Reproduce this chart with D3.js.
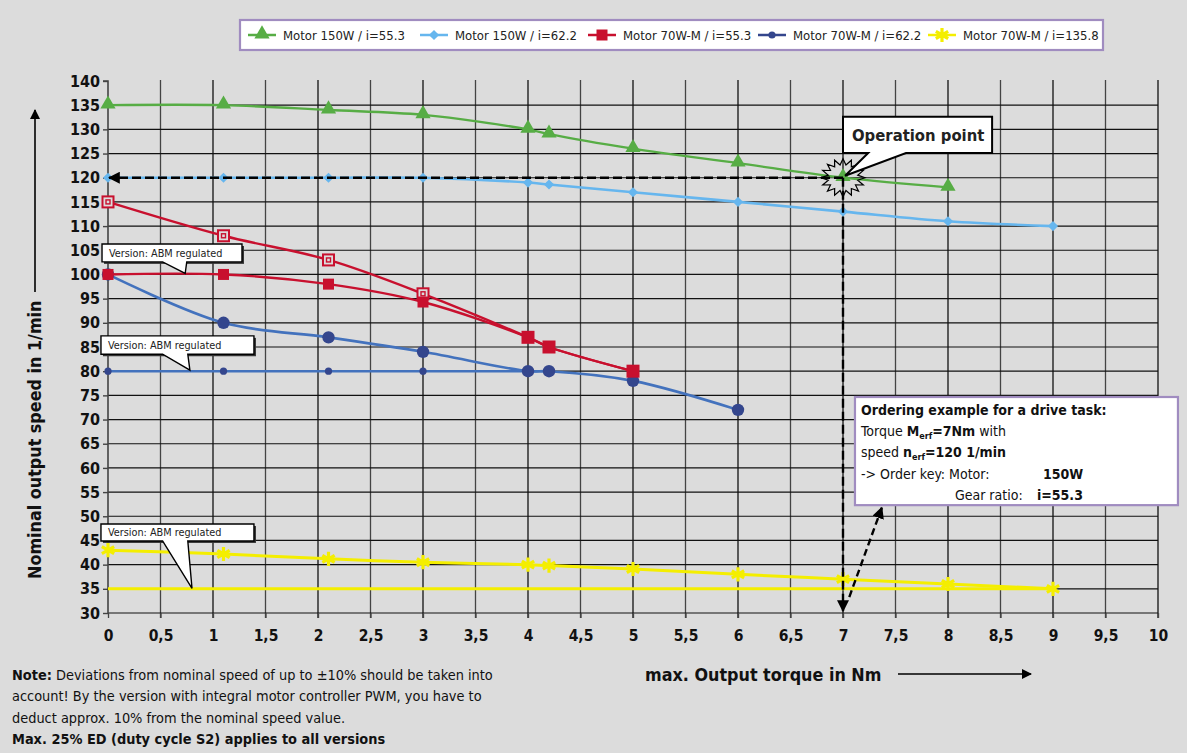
<!DOCTYPE html>
<html><head><meta charset="utf-8">
<script src="https://cdn.jsdelivr.net/npm/d3@7"></script>
<style>
html,body{margin:0;padding:0;background:#dcdcdc;}
svg{display:block;}
</style></head>
<body>
<svg id="chart" width="1187" height="753"></svg>
<script>
// ---------------- DATA ----------------
const xTickValues = [0,0.5,1,1.5,2,2.5,3,3.5,4,4.5,5,5.5,6,6.5,7,7.5,8,8.5,9,9.5,10];
const xTickLabels = ["0","0,5","1","1,5","2","2,5","3","3,5","4","4,5","5","5,5","6","6,5","7","7,5","8","8,5","9","9,5","10"];
const yTickValues = [30,35,40,45,50,55,60,65,70,75,80,85,90,95,100,105,110,115,120,125,130,135,140];

const legendLabels = ["Motor 150W / i=55.3","Motor 150W / i=62.2","Motor 70W-M / i=55.3","Motor 70W-M / i=62.2","Motor 70W-M / i=135.8"];

const torque150_553 = [0,1.1,2.1,3,4,4.2,5,6,7,8];
const speed150_553  = [135,135,134,133,130,129,126,123,120,118];

const torque150_622 = [0,1.1,2.1,3,4,4.2,5,6,7,8,9];
const speed150_622  = [120,120,120,120,119,118.6,117,115,113,111,110];

const torque70_553     = [0,1.1,2.1,3,4,4.2,5];
const speed70_553      = [115,108,103,96,87,85,80];
const speed70_553_ABM  = [100,100,98,94.3,87,85,80];

const torque70_622     = [0,1.1,2.1,3,4,4.2,5,6];
const speed70_622      = [100,90,87,84,80,80,78,72];
const torque70_622_ABM = [0,1.1,2.1,3,4,4.2];
const speed70_622_ABM  = [80,80,80,80,80,80];

const torque70_1358     = [0,1.1,2.1,3,4,4.2,5,6,7,8,9];
const speed70_1358      = [43,42.2,41.2,40.5,40,39.8,39.1,38,37,36,35];
const torque70_1358_ABM = [0,9];
const speed70_1358_ABM  = [35,35];

const operationPoint = [7,120];

// ---------------- LAYOUT ----------------
const svg = d3.select("#chart");
const W = 1187, H = 753;
const x = d3.scaleLinear().domain([0,10]).range([108,1158]);
const y = d3.scaleLinear().domain([30,140]).range([613,81]);

const BODY = "'DejaVu Sans Condensed','Liberation Sans',sans-serif";
const TICKF = "'DejaVu Sans Condensed','Liberation Sans',sans-serif";

const C = {
  green:"#57ad45", lblue:"#66b6ee", red:"#c8102e", blueLine:"#4372bd", navy:"#34468d", yellow:"#f4ee00", purple:"#a08cc0"
};

const defs = svg.append("defs");
function arrowMarker(id, size){
  defs.append("marker").attr("id",id).attr("viewBox","0 0 10 10").attr("refX",9).attr("refY",5)
    .attr("markerWidth",size).attr("markerHeight",size).attr("markerUnits","userSpaceOnUse").attr("orient","auto")
    .append("path").attr("d","M0,0 L10,5 L0,10 z").attr("fill","#000");
}
arrowMarker("arr",12);
arrowMarker("arrS",10);

svg.append("rect").attr("width",W).attr("height",H).attr("fill","#dcdcdc");

// grid
const grid = svg.append("g");
grid.selectAll("line.v").data(xTickValues.slice(1)).join("line")
  .attr("x1",d=>x(d)).attr("x2",d=>x(d)).attr("y1",y(140)-1).attr("y2",y(30)+5)
  .attr("stroke",(d,i)=> (i%2===0)? "#444":"#111").attr("stroke-width",1.3);
grid.selectAll("line.h").data(yTickValues.filter(d=>d<140)).join("line")
  .attr("x1",x(0)).attr("x2",x(10)).attr("y1",d=>y(d)).attr("y2",d=>y(d))
  .attr("stroke","#111").attr("stroke-width",1.2);

// axes
const yAxis = d3.axisLeft(y).tickValues(yTickValues).tickSize(5).tickPadding(3);
const gy = svg.append("g").attr("transform",`translate(${x(0)},0)`).call(yAxis);
gy.select(".domain").attr("stroke","#444").attr("stroke-width",1.6).attr("d",`M-5,${y(140)}H0V${y(30)}`);
gy.selectAll(".tick line").attr("stroke","#444").attr("stroke-width",1.4);
gy.selectAll(".tick text").attr("font-family",TICKF).attr("font-weight","bold").attr("font-size",16).attr("fill","#111");

const xAxis = d3.axisBottom(x).tickValues(xTickValues).tickFormat((d,i)=>xTickLabels[i]).tickSize(5).tickPadding(12);
const gx = svg.append("g").attr("transform",`translate(0,${y(30)})`).call(xAxis);
gx.select(".domain").remove();
gx.selectAll(".tick line").attr("stroke","#444").attr("stroke-width",1.3);
gx.selectAll(".tick text").attr("font-family",TICKF).attr("font-weight","bold").attr("font-size",15.5).attr("fill","#111");

// ---------------- SERIES ----------------
const plot = svg.append("g");
function zip(t,s){ return t.map((v,i)=>[v,s[i]]); }
const lineGen = d3.line().x(d=>x(d[0])).y(d=>y(d[1])).curve(d3.curveCatmullRom.alpha(0.5));
function drawLine(pts,color,w){
  plot.append("path").datum(pts).attr("d",lineGen).attr("fill","none").attr("stroke",color).attr("stroke-width",w).attr("stroke-linejoin","round");
}
function sym(type,size){ return d3.symbol().type(type).size(size)(); }

function markers(pts, kind){
  const g = plot.append("g");
  pts.forEach(p=> drawMarker(g,kind,x(p[0]),y(p[1])));
}
function drawMarker(g,kind,cx,cy){
  const t = `translate(${cx},${cy})`;
  if(kind==="tri") g.append("path").attr("transform",t+" translate(0,-1)").attr("d",sym(d3.symbolTriangle,100)).attr("fill",C.green);
  else if(kind==="dia") g.append("rect").attr("x",-3.6).attr("y",-3.6).attr("width",7.2).attr("height",7.2).attr("transform",t+" rotate(45)").attr("fill",C.lblue);
  else if(kind==="sqOpen"){
    g.append("rect").attr("x",cx-5.5).attr("y",cy-5.5).attr("width",11).attr("height",11).attr("fill","#dcdcdc").attr("stroke",C.red).attr("stroke-width",2);
    g.append("rect").attr("x",cx-2).attr("y",cy-2).attr("width",4).attr("height",4).attr("fill","none").attr("stroke",C.red).attr("stroke-width",1.4);
  }
  else if(kind==="sq") g.append("rect").attr("x",cx-5.5).attr("y",cy-5.5).attr("width",11).attr("height",11).attr("fill",C.red);
  else if(kind==="dot") g.append("circle").attr("cx",cx).attr("cy",cy).attr("r",6.2).attr("fill",C.navy);
  else if(kind==="dotS") g.append("circle").attr("cx",cx).attr("cy",cy).attr("r",3.6).attr("fill",C.navy);
  else if(kind==="ast") g.append("path").attr("transform",t).attr("d",sym(d3.symbolAsterisk,85)).attr("fill","none").attr("stroke",C.yellow).attr("stroke-width",3.2).attr("stroke-linecap","square");
}

// yellow
drawLine(zip(torque70_1358_ABM,speed70_1358_ABM),C.yellow,3);
drawLine(zip(torque70_1358,speed70_1358),C.yellow,3);
markers(zip(torque70_1358,speed70_1358),"ast");
// light blue
drawLine(zip(torque150_622,speed150_622),C.lblue,2.6);
markers(zip(torque150_622,speed150_622),"dia");
// green
drawLine(zip(torque150_553,speed150_553),C.green,2.3);
markers(zip(torque150_553,speed150_553),"tri");
// dark blue
drawLine(zip(torque70_622_ABM,speed70_622_ABM),C.blueLine,2.6);
drawLine(zip(torque70_622,speed70_622),C.blueLine,2.6);
markers(zip(torque70_622_ABM,speed70_622_ABM),"dotS");
markers(zip(torque70_622,speed70_622),"dot");
// red
drawLine(zip(torque70_553,speed70_553),C.red,2.4);
drawLine(zip(torque70_553,speed70_553_ABM),C.red,2.4);
markers(zip(torque70_553,speed70_553),"sqOpen");
markers(zip(torque70_553,speed70_553_ABM),"sq");

// ---------------- OPERATION POINT ----------------
const ox = x(operationPoint[0]), oy = y(operationPoint[1]);
const ann = svg.append("g");
ann.append("line").attr("x1",ox).attr("y1",oy).attr("x2",x(0)+1).attr("y2",oy)
  .attr("stroke","#000").attr("stroke-width",2.4).attr("stroke-dasharray","9,4").attr("marker-end","url(#arr)");
ann.append("line").attr("x1",ox).attr("y1",oy).attr("x2",ox).attr("y2",y(30)-2)
  .attr("stroke","#000").attr("stroke-width",2.4).attr("stroke-dasharray","9,4").attr("marker-end","url(#arr)");
// burst star
(function(){
  const n=16, pts=[];
  for(let i=0;i<2*n;i++){
    const a = Math.PI*i/n;
    const rx = i%2===0? 22:15, ry = i%2===0? 19:13;
    pts.push([ox+rx*Math.cos(a), oy+ry*Math.sin(a)]);
  }
  ann.append("path").attr("d","M"+pts.map(p=>p.join(",")).join("L")+"Z").attr("fill","none").attr("stroke","#000").attr("stroke-width",1.2);
})();

// callout builder (data coords)
function callout(box, base, tip, opts){
  const x0=x(box[0]), x1=x(box[1]), y0=y(box[2]), y1=y(box[3]);
  const b0=x(base[0]), b1=x(base[1]), tx=x(tip[0]), ty=y(tip[1]);
  const d=`M${x0},${y0}H${x1}V${y1}H${b1}L${tx},${ty}L${b0},${y1}H${x0}Z`;
  if(opts.shadow) ann.append("rect").attr("x",x0+2).attr("y",y0+2).attr("width",x1-x0).attr("height",y1-y0).attr("fill","#333");
  ann.append("path").attr("d",d).attr("fill","#fff").attr("stroke","#000").attr("stroke-width",opts.sw).attr("stroke-linejoin","miter");
  ann.append("text").attr("x",x0+opts.padX).attr("y",(y0+y1)/2).attr("dy","0.36em")
    .attr("font-family",BODY).attr("font-size",opts.fs).attr("font-weight",opts.fw).attr("fill","#222").text(opts.text);
}
callout([7.0,8.42,132.6,125.1],[7.24,7.6],[7.02,120.4],{text:"Operation point",fs:16.5,fw:"bold",padX:9,sw:2});

const abmNotes = [
  {box:[-0.057,1.276,106.3,102.6], base:[0.52,0.75], tip:[0.735,100.2]},
  {box:[-0.067,1.39,87.3,83.5],    base:[0.52,0.76], tip:[0.78,80.2]},
  {box:[-0.067,1.39,48.4,44.9],    base:[0.52,0.76], tip:[0.80,35.1]}
];
abmNotes.forEach(a=>callout(a.box,a.base,a.tip,{text:"Version: ABM regulated",fs:10.8,fw:"normal",padX:7,sw:1.4,shadow:true}));

// diagonal dashed arrow to ordering box
ann.append("line").attr("x1",x(7.06)).attr("y1",y(33.3)).attr("x2",x(7.37)).attr("y2",y(51.8))
  .attr("stroke","#000").attr("stroke-width",2.4).attr("stroke-dasharray","7,4").attr("marker-end","url(#arr)");

// ordering box
(function(){
  const bx0=x(7.114), bx1=x(10.19), by0=y(74.66), by1=y(52.3);
  ann.append("rect").attr("x",bx0).attr("y",by0).attr("width",bx1-bx0).attr("height",by1-by0)
    .attr("fill","#fff").attr("stroke",C.purple).attr("stroke-width",2.2);
  const tx = bx0+6, fs=14;
  const t = (yy)=>ann.append("text").attr("x",tx).attr("y",yy).attr("font-family",BODY).attr("font-size",fs).attr("fill","#111");
  t(by0+18).attr("font-weight","bold").text("Ordering example for a drive task:");
  const l2 = t(by0+39);
  l2.append("tspan").text("Torque ");
  l2.append("tspan").attr("font-weight","bold").text("M");
  l2.append("tspan").attr("font-size",9).attr("font-weight","bold").attr("dy",3).text("erf");
  l2.append("tspan").attr("font-weight","bold").attr("dy",-3).text("=7Nm");
  l2.append("tspan").text(" with");
  const l3 = t(by0+60);
  l3.append("tspan").text("speed ");
  l3.append("tspan").attr("font-weight","bold").text("n");
  l3.append("tspan").attr("font-size",9).attr("font-weight","bold").attr("dy",3).text("erf");
  l3.append("tspan").attr("font-weight","bold").attr("dy",-3).text("=120 1/min");
  t(by0+82).text("-> Order key:  Motor:");
  ann.append("text").attr("x",bx0+188).attr("y",by0+82).attr("font-family",BODY).attr("font-size",fs).attr("font-weight","bold").attr("fill","#111").text("150W");
  ann.append("text").attr("x",bx0+100).attr("y",by0+103).attr("font-family",BODY).attr("font-size",fs).attr("fill","#111").text("Gear ratio:");
  ann.append("text").attr("x",bx0+182).attr("y",by0+103).attr("font-family",BODY).attr("font-size",fs).attr("font-weight","bold").attr("fill","#111").text("i=55.3");
})();

// ---------------- AXIS TITLES ----------------
svg.append("text").attr("transform","translate(41,579) rotate(-90)").attr("font-family",BODY).attr("font-weight","bold")
  .attr("font-size",17.8).attr("fill","#111").text("Nominal output speed in 1/min");
svg.append("line").attr("x1",35).attr("x2",35).attr("y1",292).attr("y2",110).attr("stroke","#000").attr("stroke-width",1.6).attr("marker-end","url(#arrS)");

svg.append("text").attr("x",645).attr("y",681).attr("font-family",BODY).attr("font-weight","bold")
  .attr("font-size",17.8).attr("fill","#111").text("max. Output torque in Nm");
svg.append("line").attr("x1",898).attr("x2",1031).attr("y1",674).attr("y2",674).attr("stroke","#000").attr("stroke-width",1.6).attr("marker-end","url(#arrS)");

// ---------------- NOTE ----------------
const noteLines = [
  [["Note:",true],[" Deviations from nominal speed of up to ±10% should be taken into",false]],
  [["account! By the version with integral motor controller PWM, you have to",false]],
  [["deduct approx. 10% from the nominal speed value.",false]],
  [["Max. 25% ED (duty cycle S2) applies to all versions",true]]
];
noteLines.forEach((ln,i)=>{
  const t = svg.append("text").attr("x",12).attr("y",680+i*21.3).attr("font-family",BODY).attr("font-size",14.4).attr("fill","#111");
  ln.forEach(s=>t.append("tspan").attr("font-weight",s[1]?"bold":"normal").text(s[0]));
});

// ---------------- LEGEND ----------------
const leg = svg.append("g");
leg.append("rect").attr("x",240).attr("y",20).attr("width",863).attr("height",30).attr("fill","#fff").attr("stroke",C.purple).attr("stroke-width",2.2);
const legendItems = [
  {kind:"tri",color:C.green,x:248},
  {kind:"dia",color:C.lblue,x:420},
  {kind:"sq",color:C.red,x:588},
  {kind:"dotS",color:C.navy,x:758},
  {kind:"ast",color:C.yellow,x:928}
];
legendItems.forEach((it,i)=>{
  const cy=35;
  leg.append("line").attr("x1",it.x).attr("x2",it.x+28).attr("y1",cy).attr("y2",cy).attr("stroke",it.kind==="dotS"?C.navy:it.color).attr("stroke-width",2.5);
  drawMarker(leg,it.kind,it.x+14,cy);
  leg.append("text").attr("x",it.x+35).attr("y",cy).attr("dy","0.36em").attr("font-family",BODY).attr("font-size",13).attr("fill","#222").text(legendLabels[i]);
});
</script>
</body></html>
